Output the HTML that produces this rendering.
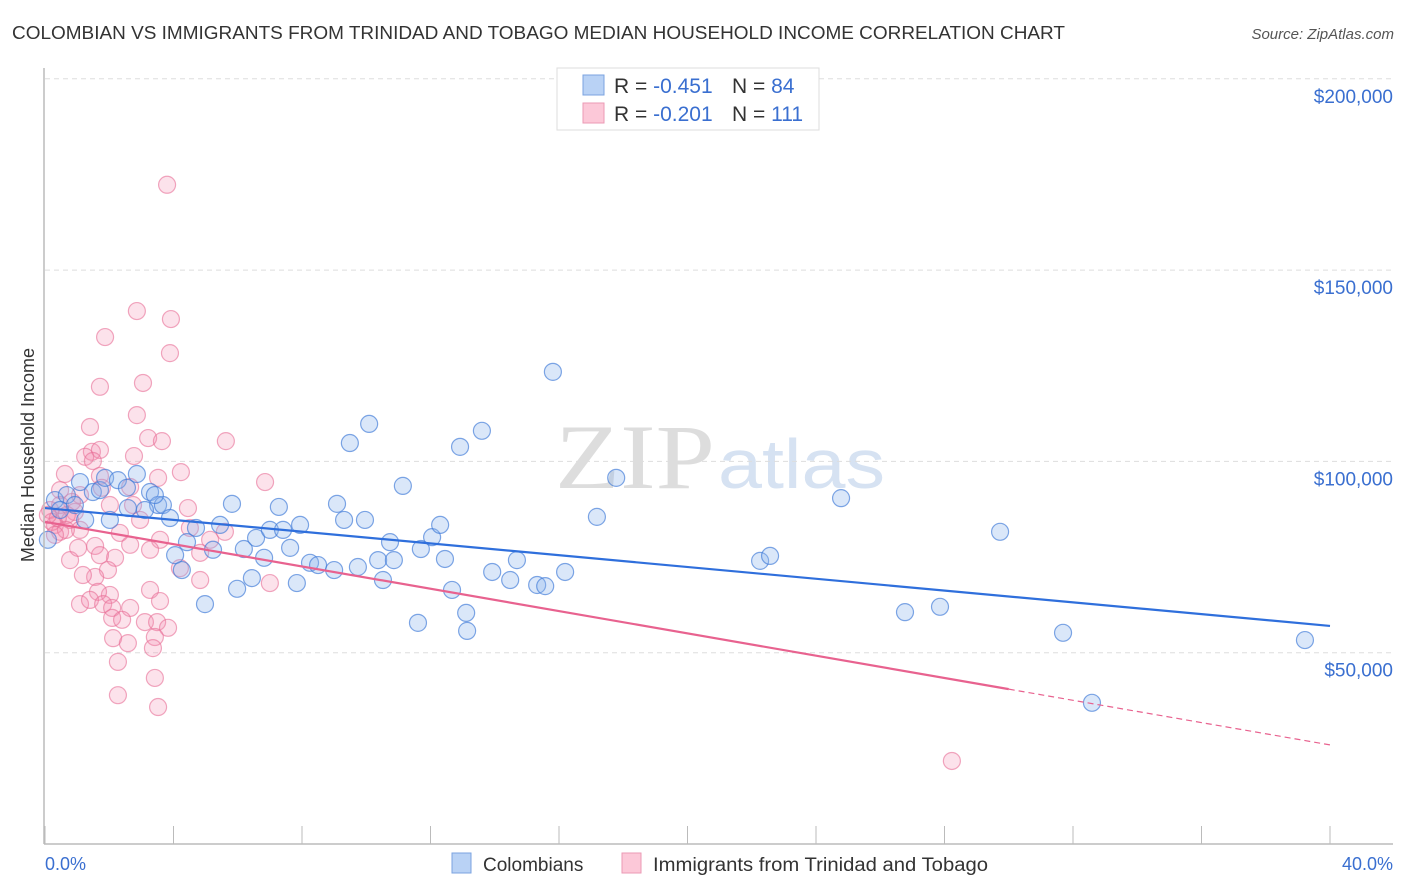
<!DOCTYPE html>
<html><head><meta charset="utf-8"><style>
body{margin:0;background:#fff;font-family:"Liberation Sans",sans-serif;}
#wrap{position:relative;width:1406px;height:892px;overflow:hidden;}
</style></head><body>
<div id="wrap">
<svg id="svg" width="1406" height="892" xmlns="http://www.w3.org/2000/svg">
<text x="12" y="39" font-size="18" fill="#333" textLength="1053" lengthAdjust="spacingAndGlyphs" font-family="Liberation Sans, sans-serif">COLOMBIAN VS IMMIGRANTS FROM TRINIDAD AND TOBAGO MEDIAN HOUSEHOLD INCOME CORRELATION CHART</text>
<text x="1394" y="39" font-size="15" fill="#555" font-style="italic" text-anchor="end">Source: ZipAtlas.com</text>
<text x="555" y="488" font-size="92" fill="#ddd" font-family="Liberation Serif, serif" textLength="160" lengthAdjust="spacingAndGlyphs">ZIP</text>
<text x="718" y="488" font-size="70" fill="#d6e2f2" textLength="167" lengthAdjust="spacingAndGlyphs">atlas</text>
<text transform="translate(34,455) rotate(-90)" font-size="18" fill="#333" text-anchor="middle">Median Household Income</text>
<g id="grid"></g><g id="marks"></g><g id="lines"></g>
<line x1="44" y1="68" x2="44" y2="844" stroke="#bbb" stroke-width="1.5"/>
<line x1="44" y1="844" x2="1393" y2="844" stroke="#bbb" stroke-width="1.5"/>
<g id="ticks"></g>
<text x="45" y="870" font-size="18" fill="#3a6fd0">0.0%</text>
<text x="1393" y="870" font-size="18" fill="#3a6fd0" text-anchor="end">40.0%</text>
<rect x="557" y="68" width="262" height="62" fill="#fff" stroke="#ddd"/>
<rect x="583" y="75" width="21" height="20" fill="#b9d2f5" stroke="#7ba3e0"/>
<rect x="583" y="103" width="21" height="20" fill="#fcc8d8" stroke="#eb9ab4"/>
<text x="614" y="93" font-size="21" fill="#333">R = <tspan fill="#3a6fd0">-0.451</tspan><tspan x="732">N = </tspan><tspan fill="#3a6fd0">84</tspan></text>
<text x="614" y="121" font-size="21" fill="#333">R = <tspan fill="#3a6fd0">-0.201</tspan><tspan x="732">N = </tspan><tspan fill="#3a6fd0">111</tspan></text>
<rect x="452" y="853" width="19" height="20" fill="#b9d2f5" stroke="#7ba3e0"/>
<text x="483" y="871" font-size="19" fill="#333">Colombians</text>
<rect x="622" y="853" width="19" height="20" fill="#fcc8d8" stroke="#eb9ab4"/>
<text x="653" y="871" font-size="19" fill="#333" textLength="335" lengthAdjust="spacingAndGlyphs">Immigrants from Trinidad and Tobago</text>
</svg>
</div>
<script>
const yTicks=[50000,100000,150000,200000];
const yTickLabels=["$50,000","$100,000","$150,000","$200,000"];
const xTicks=[0,4,8,12,16,20,24,28,32,36,40];
const blueX=[0.31,0.68,1.09,1.49,1.71,1.87,2.27,2.55,2.86,3.27,3.52,3.67,3.89,4.05,4.26,4.42,4.70,4.98,5.23,5.45,5.82,5.98,6.19,6.44,6.57,6.82,7.00,7.28,7.41,7.63,7.84,7.94,8.25,8.50,9.00,9.09,9.31,9.49,9.96,10.09,9.74,10.37,10.52,10.74,10.86,11.14,11.61,11.70,12.05,12.30,12.45,12.67,12.92,13.11,13.14,13.60,13.92,14.48,14.69,15.32,15.57,15.81,16.19,17.18,17.78,22.26,22.57,24.78,26.77,27.86,29.73,31.69,32.59,39.22,0.47,0.93,1.25,2.02,2.58,3.11,3.42,0.09];
const blueY=[89.9,91.2,94.6,92.0,92.5,95.7,95.1,93.1,96.7,92.0,88.6,88.6,85.2,75.5,71.6,78.9,82.6,62.7,76.9,83.4,88.9,66.7,77.1,69.5,80.0,74.8,82.1,88.1,82.1,77.4,68.2,83.4,73.5,72.9,71.6,88.9,84.7,104.8,84.7,109.8,72.4,74.2,69.0,78.9,74.2,93.6,57.8,77.1,80.2,83.4,74.5,66.4,103.8,60.4,55.7,108.0,71.1,69.0,74.2,67.7,67.4,123.4,71.1,85.5,95.7,74.0,75.3,90.4,60.6,62.0,81.6,55.2,36.9,53.3,87.3,88.6,84.7,84.7,87.8,87.3,91.2,79.5];
const pinkX=[3.80,2.86,3.92,1.87,3.89,3.05,1.71,2.86,1.40,3.21,3.64,5.63,1.46,1.71,2.77,1.25,1.49,4.23,0.62,3.52,6.85,1.71,1.77,2.65,0.47,1.09,4.45,2.74,2.02,0.93,0.16,0.31,0.47,0.78,1.09,2.33,4.51,5.14,3.58,5.60,1.56,2.65,3.27,4.83,2.18,0.78,1.03,1.71,1.96,1.56,1.18,2.02,1.09,1.65,1.40,1.81,2.09,2.65,4.20,3.27,7.00,3.58,2.09,3.11,2.40,3.49,3.83,2.12,3.42,2.58,2.27,3.36,2.27,3.42,3.52,28.23,0.47,0.68,0.22,0.40,0.65,0.84,0.09,0.31,4.83,2.96];
const pinkY=[172.3,139.3,137.2,132.5,128.3,120.5,119.5,112.1,109.0,106.1,105.3,105.3,102.5,103.0,101.4,101.2,100.1,97.2,96.7,95.7,94.6,96.2,93.1,93.3,92.5,91.2,87.8,88.6,88.6,86.8,87.3,83.4,81.6,84.7,82.1,81.3,82.6,79.5,79.5,81.6,77.9,78.2,76.9,76.1,74.8,74.2,77.4,75.5,71.6,69.8,70.3,65.1,62.7,65.9,63.8,62.7,61.7,61.7,72.1,66.4,68.2,63.5,59.1,58.0,58.6,58.0,56.5,53.8,54.1,52.5,47.6,51.2,38.9,43.4,35.8,21.7,88.6,86.0,84.2,85.2,82.1,89.4,86.0,80.8,69.0,84.7];
const blueTrend=[87.8,57.0]; // value at 0% and 40%
const pinkTrend=[84.2,25.9];
const pinkSolidEnd=30.0;
const NS="http://www.w3.org/2000/svg";
const X=v=>45+v/40*1285;
const Y=v=>844-v/50000*191.3;
const Yk=v=>Y(v*1000);
function mk(t,a,p){const e=document.createElementNS(NS,t);for(const k in a)e.setAttribute(k,a[k]);p.appendChild(e);return e;}
const grid=document.getElementById('grid'),ticks=document.getElementById('ticks'),marks=document.getElementById('marks'),lines=document.getElementById('lines');
yTicks.forEach((v,i)=>{
 const l=mk('line',{x1:45,x2:1393,y1:Y(v),y2:Y(v),stroke:'#ddd','stroke-dasharray':'5,4'},grid);
 
 
 const t=mk('text',{x:1393,y:Y(v)+24,'font-size':19,fill:'#3a6fd0','text-anchor':'end'},grid);
 t.textContent=yTickLabels[i];
 
 
});
xTicks.forEach(v=>{
 const l=mk('line',{x1:X(v),x2:X(v),y1:826,y2:844,stroke:'#bbb'},ticks);
 
 
});
pinkX.forEach((x,i)=>{
 const c=mk('circle',{cx:X(x),cy:Yk(pinkY[i]),r:8.5,fill:'rgba(245,140,175,0.25)',stroke:'rgba(232,110,150,0.6)','stroke-width':1.2},marks);
 
 
});
blueX.forEach((x,i)=>{
 const c=mk('circle',{cx:X(x),cy:Yk(blueY[i]),r:8.5,fill:'rgba(140,180,235,0.32)',stroke:'rgba(60,120,215,0.65)','stroke-width':1.2},marks);
 
 
});
const pAt=x=>pinkTrend[0]+(pinkTrend[1]-pinkTrend[0])*x/40;
let l1=mk('line',{x1:X(0),y1:Yk(blueTrend[0]),x2:X(40),y2:Yk(blueTrend[1]),stroke:'#2f6fdc','stroke-width':2.2},lines);


let l2=mk('line',{x1:X(0),y1:Yk(pAt(0)),x2:X(pinkSolidEnd),y2:Yk(pAt(pinkSolidEnd)),stroke:'#e8628f','stroke-width':2.2},lines);


let l3=mk('line',{x1:X(pinkSolidEnd),y1:Yk(pAt(pinkSolidEnd)),x2:X(40),y2:Yk(pAt(40)),stroke:'#e8628f','stroke-width':1.2,'stroke-dasharray':'6,4'},lines);


</script>
</body></html>
